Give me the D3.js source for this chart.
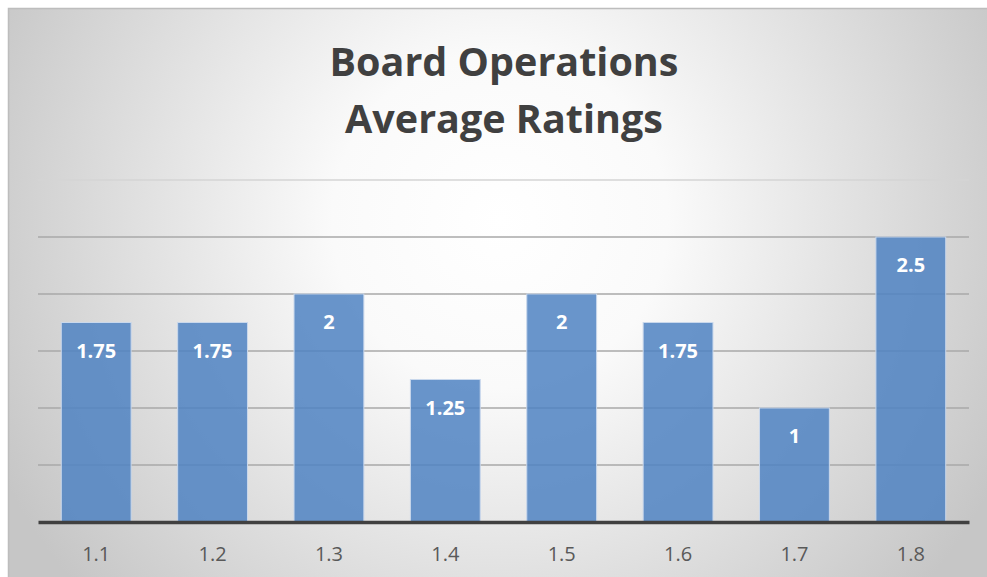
<!DOCTYPE html>
<html>
<head>
<meta charset="utf-8">
<script src="https://cdn.jsdelivr.net/npm/d3@7"></script>
<style>
  body { margin: 0; background: #fff; }
  svg { display: block; }
</style>
</head>
<body>
<div id="chart"></div>
<script>
const categories = ['1.1', '1.2', '1.3', '1.4', '1.5', '1.6', '1.7', '1.8']
const ratings = [1.75, 1.75, 2, 1.25, 2, 1.75, 1, 2.5]
const yTicks = [0.5, 1, 1.5, 2, 2.5, 3]
const titleLines = ['Board Operations', 'Average Ratings']

const W = 987
const H = 577

const margin = { top: 180, right: 18, bottom: 55, left: 38 }
const width = W - margin.left - margin.right
const height = H - margin.top - margin.bottom

const root = d3
  .select('#chart')
  .append('svg')
  .attr('width', W)
  .attr('height', H)

// background gradient like the office chart style
const defs = root.append('defs')
const grad = defs
  .append('radialGradient')
  .attr('id', 'bg')
  .attr('gradientUnits', 'userSpaceOnUse')
  .attr('cx', 500)
  .attr('cy', 220)
  .attr('r', 560)
grad.append('stop').attr('offset', '0%').attr('stop-color', '#ffffff')
grad.append('stop').attr('offset', '30%').attr('stop-color', '#fafafa')
grad.append('stop').attr('offset', '100%').attr('stop-color', '#c6c6c6')

root
  .append('rect')
  .attr('x', 8.5)
  .attr('y', 8.5)
  .attr('width', W)
  .attr('height', H)
  .attr('fill', 'url(#bg)')
  .attr('stroke', '#bdbdbd')
  .attr('stroke-width', 1.5)

root
  .selectAll('.title')
  .data(titleLines)
  .enter()
  .append('text')
  .attr('class', 'title')
  .attr('x', 504)
  .attr('y', (d, i) => 76 + i * 57)
  .attr('text-anchor', 'middle')
  .attr('font-family', 'Open Sans, sans-serif')
  .attr('font-weight', 'bold')
  .attr('font-size', 39.5)
  .attr('fill', '#404040')
  .text(d => d)

const svg = root
  .append('g')
  .attr('transform', `translate(${margin.left}, ${margin.top})`)

const xPositionScale = d3
  .scaleBand()
  .domain(categories)
  .range([0, width])
  .paddingInner(0.4)
  .paddingOuter(0.2)

const yPositionScale = d3
  .scaleLinear()
  .domain([0, 3])
  .range([height, 0])

// gridlines
svg
  .selectAll('.grid')
  .data(yTicks)
  .enter()
  .append('line')
  .attr('class', 'grid')
  .attr('x1', 0)
  .attr('x2', width)
  .attr('y1', d => yPositionScale(d))
  .attr('y2', d => yPositionScale(d))
  .attr('stroke', d => (d === 3 ? '#d4d4d4' : '#a9a9a9'))
  .attr('stroke-width', 1.5)

svg
  .selectAll('.bar')
  .data(ratings)
  .enter()
  .append('rect')
  .attr('class', 'bar')
  .attr('x', (d, i) => xPositionScale(categories[i]))
  .attr('width', xPositionScale.bandwidth())
  .attr('y', d => yPositionScale(d))
  .attr('height', d => height - yPositionScale(d))
  .attr('fill', '#4f83c2')
  .attr('fill-opacity', 0.85)
  .attr('stroke', '#c9d8ec')
  .attr('stroke-width', 1)

svg
  .selectAll('.bar-label')
  .data(ratings)
  .enter()
  .append('text')
  .attr('class', 'bar-label')
  .attr('x', (d, i) => xPositionScale(categories[i]) + xPositionScale.bandwidth() / 2)
  .attr('y', d => yPositionScale(d) + 35)
  .attr('text-anchor', 'middle')
  .attr('font-family', 'Open Sans, sans-serif')
  .attr('font-weight', 'bold')
  .attr('font-size', 20)
  .attr('fill', '#ffffff')
  .text(d => d)

const xAxis = d3.axisBottom(xPositionScale).tickSize(0).tickPadding(25)

svg
  .append('g')
  .attr('class', 'axis x-axis')
  .attr('transform', 'translate(0,' + height + ')')
  .call(xAxis)
  .call(g => g.select('.domain').attr('stroke', '#404040').attr('stroke-width', 3.5))
  .call(g =>
    g
      .selectAll('text')
      .attr('font-family', 'Open Sans, sans-serif')
      .attr('font-size', 20)
      .attr('fill', '#595959')
  )
</script>
</body>
</html>
